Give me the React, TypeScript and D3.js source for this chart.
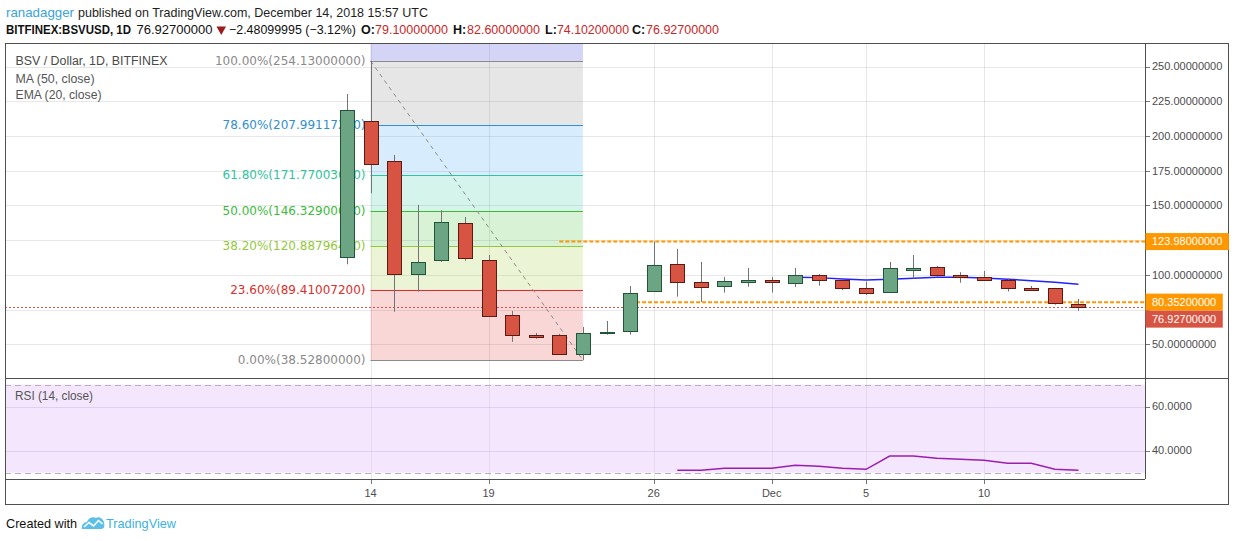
import React from 'react';
import * as d3 from 'd3';

// candles, BSV/USD daily
const candleDates = [
  '2018-11-13', '2018-11-14', '2018-11-15', '2018-11-16', '2018-11-17', '2018-11-18',
  '2018-11-19', '2018-11-20', '2018-11-21', '2018-11-22', '2018-11-23', '2018-11-24',
  '2018-11-25', '2018-11-26', '2018-11-27', '2018-11-28', '2018-11-29', '2018-11-30',
  '2018-12-01', '2018-12-02', '2018-12-03', '2018-12-04', '2018-12-05', '2018-12-06',
  '2018-12-07', '2018-12-08', '2018-12-09', '2018-12-10', '2018-12-11', '2018-12-12',
  '2018-12-13', '2018-12-14',
];
const opens = [
  112.7, 210.7, 181.8, 100.4, 110.5, 137.2, 110.5, 70.9, 56.7, 56.5, 42.8, 57.8,
  59.4, 88.2, 107.6, 94.7, 91.8, 94.7, 96.1, 94.0, 99.7, 96.1, 90.3, 87.5,
  103.0, 105.5, 99.7, 98.3, 96.1, 90.6, 90.3, 79.1,
];
const highs = [
  230.3, 254.13, 186.4, 150.4, 146.5, 141.7, 114.3, 74.0, 58.1, 57.5, 62.5, 66.8,
  92.0, 123.98, 118.7, 109.3, 98.5, 105.0, 98.5, 105.0, 100.6, 96.5, 95.1, 109.3,
  114.3, 106.4, 101.9, 102.8, 97.5, 92.0, 90.6, 82.6,
];
const lows = [
  107.6, 158.8, 73.5, 87.9, 109.5, 110.2, 70.2, 51.7, 54.0, 42.8, 38.528, 56.9,
  56.9, 87.5, 84.3, 80.5, 87.2, 91.5, 87.2, 91.2, 92.2, 89.1, 85.5, 87.0,
  97.3, 98.3, 94.3, 95.5, 88.0, 88.5, 78.5, 74.102,
];
const closes = [
  218.6, 179.7, 100.4, 109.1, 137.9, 111.9, 70.2, 56.5, 55.6, 42.8, 57.9, 58.6,
  86.7, 107.1, 94.7, 91.1, 95.4, 96.1, 94.7, 99.7, 95.9, 90.3, 86.7, 104.8,
  104.8, 99.4, 98.3, 95.9, 90.1, 89.4, 79.5, 76.927,
];

const emaStart = '2018-12-02';
const emaValues = [98.3, 98.0, 97.0, 96.2, 96.8, 97.6, 98.2, 98.3, 97.8, 96.9, 95.8, 94.7, 93.2];

const rsiStart = '2018-11-27';
const rsiValues = [
  31.1, 31.1, 32.0, 32.0, 32.0, 33.4, 32.9, 32.0, 31.5, 37.5, 37.5, 36.5, 36.1, 35.6,
  34.3, 34.3, 31.5, 31.1,
];

const fibHigh = 254.13;
const fibLow = 38.528;
const fibFrom = '2018-11-14';
const fibTo = '2018-11-23';
const fibRatios = [1, 0.786, 0.618, 0.5, 0.382, 0.236, 0];
const fibColors = ['#8a8a8a', '#2f8fd0', '#2fc49c', '#3cba3c', '#93c83a', '#d8302c', '#8a8a8a'];
const fibFills = [
  'rgba(128,128,128,0.2)', 'rgba(33,150,243,0.18)', 'rgba(38,198,160,0.2)',
  'rgba(60,190,50,0.2)', 'rgba(155,205,50,0.2)', 'rgba(229,57,53,0.2)',
];

const levelPrices = [123.98, 80.352];
const levelStarts = ['2018-11-22', '2018-11-25'];
const lastClose = 76.927;

const priceTicks = [50, 75, 100, 125, 150, 175, 200, 225, 250];
const rsiTicks = [40, 60];
const rsiBands = [30, 70];
const dateTicks = ['2018-11-14', '2018-11-19', '2018-11-26', '2018-12-01', '2018-12-05', '2018-12-10'];
const dateTickLabels = ['14', '19', '26', 'Dec', '5', '10'];

const W = 1234;
const H = 541;
const PL = 5;
const PR = 1145;
const OUTER_R = 1228;
const MAIN_TOP = 43;
const MAIN_BOT = 378;
const RSI_BOT = 479;
const AXIS_BOT = 504;
const DAY = 864e5;

const AX_FONT = '"Liberation Sans", Arial, sans-serif';
const GREEN = '#6ba583';
const GREEN_EDGE = '#225437';
const RED = '#d75442';
const RED_EDGE = '#5b1a13';
const GRID = 'rgba(0,0,0,0.09)';

const parse = d3.utcParse('%Y-%m-%d');
const fmt8 = d3.format('.8f');
const fmt4 = d3.format('.4f');

export default function App() {
  const t0 = parse(candleDates[0])!.getTime();
  const x = d3.scaleUtc()
    .domain([new Date(t0 - 14.49 * DAY), new Date(t0 + 33.82 * DAY)])
    .range([PL, PR]);
  const y = d3.scaleLinear().domain([25.7, 267]).range([MAIN_BOT, MAIN_TOP]);
  const yr = d3.scaleLinear().domain([27.1, 73]).range([RSI_BOT, MAIN_BOT]);

  const candles = candleDates.map((d, i) => ({
    date: parse(d)!, o: opens[i], h: highs[i], l: lows[i], c: closes[i],
  }));
  const bodyW = 14;

  const emaIdx = candleDates.indexOf(emaStart);
  const emaPts = emaValues.map((v, i) => [x(parse(candleDates[emaIdx + i])!), y(v)] as [number, number]);
  const rsiIdx = candleDates.indexOf(rsiStart);
  const rsiPts = rsiValues.map((v, i) => [x(parse(candleDates[rsiIdx + i])!), yr(v)] as [number, number]);
  const line = d3.line();

  const fx0 = x(parse(fibFrom)!);
  const fx1 = x(parse(fibTo)!);
  const fibLevels = fibRatios.map(r => fibLow + r * (fibHigh - fibLow));

  const boxes = [
    { value: levelPrices[0], color: '#ff9800' },
    { value: levelPrices[1], color: '#ff9800' },
    { value: lastClose, color: RED },
  ].map(b => ({ ...b, cy: y(b.value), text: fmt8(b.value) }))
    .sort((a, b) => a.cy - b.cy);
  for (let i = 1; i < boxes.length; i++) {
    if (boxes[i].cy - boxes[i - 1].cy < 17) boxes[i].cy = boxes[i - 1].cy + 17;
  }
  // the price scale hides tick labels that sit under a label box
  const tickShown = (t: number) => boxes.every(b => Math.abs(y(t) - b.cy) > 14);

  const snap = (v: number) => Math.round(v) + 0.5;

  return (
    <svg width={W} height={H} style={{ position: 'absolute', left: 0, top: 0, background: '#fff' }}>
      <rect width={W} height={H} fill="#fff" />

      {/* main pane grid */}
      {priceTicks.map(t => (
        <line key={'hg' + t} x1={PL} x2={PR} y1={snap(y(t))} y2={snap(y(t))} stroke={GRID} />
      ))}
      {dateTicks.map(d => (
        <line key={'vg' + d} x1={snap(x(parse(d)!))} x2={snap(x(parse(d)!))} y1={MAIN_TOP} y2={RSI_BOT} stroke={GRID} />
      ))}

      {/* fib retracement */}
      <rect x={fx0} y={MAIN_TOP} width={fx1 - fx0} height={y(fibHigh) - MAIN_TOP} fill="rgba(90,90,225,0.26)" />
      {fibFills.map((f, i) => (
        <rect key={'fb' + i} x={fx0} y={y(fibLevels[i])} width={fx1 - fx0}
          height={y(fibLevels[i + 1]) - y(fibLevels[i])} fill={f} />
      ))}
      {fibLevels.map((v, i) => (
        <g key={'fl' + i}>
          <line x1={fx0} x2={fx1} y1={snap(y(v))} y2={snap(y(v))} stroke={fibColors[i]} />
          <text x={fx0 - 5} y={y(v)} dy="0.35em" textAnchor="end" fontSize={12}
            fontFamily='"DejaVu Sans", Verdana, sans-serif' fill={fibColors[i]}>
            {`${(fibRatios[i] * 100).toFixed(2)}%(${fmt8(v)})`}
          </text>
        </g>
      ))}
      <line x1={fx0} y1={y(fibHigh)} x2={fx1} y2={y(fibLow)} stroke="#8a8a8a" strokeDasharray="4 4" />

      {/* horizontal levels */}
      {levelPrices.map((p, i) => (
        <line key={'lv' + i} x1={x(parse(levelStarts[i])!)} x2={PR} y1={y(p)} y2={y(p)}
          stroke="#ff9800" strokeWidth={2} strokeDasharray="4 2" />
      ))}
      <line x1={PL} x2={PR} y1={snap(y(lastClose))} y2={snap(y(lastClose))} stroke={RED} strokeDasharray="2 2" />

      {/* EMA */}
      <path d={line(emaPts) || ''} fill="none" stroke="#2222ff" strokeWidth={1.5} />

      {/* candles */}
      {candles.map((k, i) => (
        <line key={'wk' + i} x1={snap(x(k.date))} x2={snap(x(k.date))} y1={y(k.h)} y2={y(k.l)} stroke="#737375" />
      ))}
      {candles.map((k, i) => {
        const up = k.c >= k.o;
        const top = y(Math.max(k.o, k.c));
        const hgt = Math.max(1, Math.abs(y(k.o) - y(k.c)));
        return (
          <rect key={'bd' + i} x={Math.round(x(k.date) - bodyW / 2) + 0.5} y={Math.round(top) + 0.5}
            width={bodyW} height={Math.max(1, Math.round(hgt))}
            fill={up ? GREEN : RED} stroke={up ? GREEN_EDGE : RED_EDGE} />
        );
      })}

      {/* legend */}
      <text x={15.5} y={65} fontSize={12.3} fontFamily={AX_FONT} fill="#4a4a4a" textLength={152} lengthAdjust="spacingAndGlyphs">BSV / Dollar, 1D, BITFINEX</text>
      <text x={15.5} y={82.5} fontSize={12.3} fontFamily={AX_FONT} fill="#555" textLength={79} lengthAdjust="spacingAndGlyphs">MA (50, close)</text>
      <text x={15.5} y={98.5} fontSize={12.3} fontFamily={AX_FONT} fill="#555" textLength={86} lengthAdjust="spacingAndGlyphs">EMA (20, close)</text>

      {/* RSI pane */}
      <rect x={PL} y={yr(rsiBands[1])} width={PR - PL} height={yr(rsiBands[0]) - yr(rsiBands[1])} fill="#f3e6fd" />
      {rsiTicks.map(t => (
        <line key={'rg' + t} x1={PL} x2={PR} y1={snap(yr(t))} y2={snap(yr(t))} stroke="rgba(90,40,130,0.12)" />
      ))}
      {dateTicks.map(d => (
        <line key={'rvg' + d} x1={snap(x(parse(d)!))} x2={snap(x(parse(d)!))} y1={yr(rsiBands[1])} y2={yr(rsiBands[0])} stroke="rgba(90,40,130,0.08)" />
      ))}
      {rsiBands.map(b => (
        <line key={'rb' + b} x1={PL} x2={PR} y1={snap(yr(b))} y2={snap(yr(b))} stroke="#b8b0bd" strokeDasharray="6 4" />
      ))}
      <path d={line(rsiPts) || ''} fill="none" stroke="#9b1fae" strokeWidth={1.5} />
      <text x={15} y={400} fontSize={12.3} fontFamily={AX_FONT} fill="#555" textLength={78} lengthAdjust="spacingAndGlyphs">RSI (14, close)</text>

      {/* frame */}
      <rect x={PL + 0.5} y={MAIN_TOP + 0.5} width={OUTER_R - PL} height={AXIS_BOT - MAIN_TOP} fill="none" stroke="#4f4f4f" />
      <line x1={PR + 0.5} x2={PR + 0.5} y1={MAIN_TOP} y2={RSI_BOT} stroke="#4f4f4f" />
      <line x1={PL} x2={OUTER_R} y1={MAIN_BOT + 0.5} y2={MAIN_BOT + 0.5} stroke="#4f4f4f" />
      <line x1={PL} x2={PR} y1={RSI_BOT + 0.5} y2={RSI_BOT + 0.5} stroke="#4f4f4f" />

      {/* price axis */}
      {priceTicks.map(t => (
        <g key={'pt' + t}>
          <line x1={PR + 1} x2={PR + 5} y1={snap(y(t))} y2={snap(y(t))} stroke="#777" />
          {tickShown(t) && (
            <text x={1152} y={y(t)} dy="0.35em" fontSize={11} fontFamily={AX_FONT} fill="#4d4d4d">{fmt8(t)}</text>
          )}
        </g>
      ))}
      {rsiTicks.map(t => (
        <g key={'rt' + t}>
          <line x1={PR + 1} x2={PR + 5} y1={snap(yr(t))} y2={snap(yr(t))} stroke="#777" />
          <text x={1152} y={yr(t)} dy="0.35em" fontSize={11} fontFamily={AX_FONT} fill="#4d4d4d">{fmt4(t)}</text>
        </g>
      ))}
      {boxes.map(b => (
        <g key={'bx' + b.value}>
          <rect x={PR + 0.5} y={b.cy - 8.5} width={b.text.length * 6.12 - 3.06 + 13} height={17} fill={b.color} />
          <text x={1152} y={b.cy} dy="0.33em" fontSize={11} fontFamily={AX_FONT} fill="#fff">{b.text}</text>
        </g>
      ))}

      {/* time axis */}
      {dateTicks.map((d, i) => (
        <g key={'dt' + d}>
          <line x1={snap(x(parse(d)!))} x2={snap(x(parse(d)!))} y1={RSI_BOT + 1} y2={RSI_BOT + 5} stroke="#777" />
          <text x={x(parse(d)!)} y={493} dy="0.35em" textAnchor="middle" fontSize={11} fontFamily={AX_FONT} fill="#4d4d4d">
            {dateTickLabels[i]}
          </text>
        </g>
      ))}

      {/* header */}
      <text x={6} y={16.7} fontSize={13} fontFamily={AX_FONT} fill="#3ba3d9" textLength={68} lengthAdjust="spacingAndGlyphs">ranadagger</text>
      <text x={78} y={16.7} fontSize={13} fontFamily={AX_FONT} fill="#1e1e1e" textLength={350} lengthAdjust="spacingAndGlyphs">published on TradingView.com, December 14, 2018 15:57 UTC</text>
      <text x={6} y={34.3} fontSize={12.5} fontWeight="bold" fontFamily={AX_FONT} fill="#111" textLength={125} lengthAdjust="spacingAndGlyphs">BITFINEX:BSVUSD, 1D</text>
      <text x={136.5} y={34.3} fontSize={12.5} fontFamily={AX_FONT} fill="#111" textLength={76} lengthAdjust="spacingAndGlyphs">76.92700000</text>
      <path d="M216.5,26.5 L226,26.5 L221.25,35 Z" fill="#9b1c1c" />
      <text x={229} y={34.3} fontSize={12.5} fontFamily={AX_FONT} fill="#111" textLength={127} lengthAdjust="spacingAndGlyphs">−2.48099995 (−3.12%)</text>
      <text x={361} y={34.3} fontSize={12.5} fontWeight="bold" fontFamily={AX_FONT} fill="#111">O:</text>
      <text x={375} y={34.3} fontSize={12.5} fontFamily={AX_FONT} fill="#c62828" textLength={73} lengthAdjust="spacingAndGlyphs">79.10000000</text>
      <text x={453} y={34.3} fontSize={12.5} fontWeight="bold" fontFamily={AX_FONT} fill="#111">H:</text>
      <text x={467} y={34.3} fontSize={12.5} fontFamily={AX_FONT} fill="#c62828" textLength={73} lengthAdjust="spacingAndGlyphs">82.60000000</text>
      <text x={545} y={34.3} fontSize={12.5} fontWeight="bold" fontFamily={AX_FONT} fill="#111">L:</text>
      <text x={557} y={34.3} fontSize={12.5} fontFamily={AX_FONT} fill="#c62828" textLength={72} lengthAdjust="spacingAndGlyphs">74.10200000</text>
      <text x={632} y={34.3} fontSize={12.5} fontWeight="bold" fontFamily={AX_FONT} fill="#111">C:</text>
      <text x={646} y={34.3} fontSize={12.5} fontFamily={AX_FONT} fill="#c62828" textLength={73} lengthAdjust="spacingAndGlyphs">76.92700000</text>

      {/* footer */}
      <text x={6} y={528} fontSize={13} fontFamily={AX_FONT} fill="#111" textLength={71} lengthAdjust="spacingAndGlyphs">Created with</text>
      <g>
        <path d="M82,529 C81,525 84,522 87,522 C88,518 93,516 96,518 C99,516 104,519 104,523 C105,526 104,529 101,529 Z" fill="#5bbfe8" />
        <path d="M84,527 L89,522.5 L93.5,526 L98.5,520.5 L102.5,524" fill="none" stroke="#fff" strokeWidth={1.6} />
      </g>
      <text x={106} y={528} fontSize={13} fontFamily={AX_FONT} fill="#3bb3e4" textLength={70} lengthAdjust="spacingAndGlyphs">TradingView</text>
    </svg>
  );
}
